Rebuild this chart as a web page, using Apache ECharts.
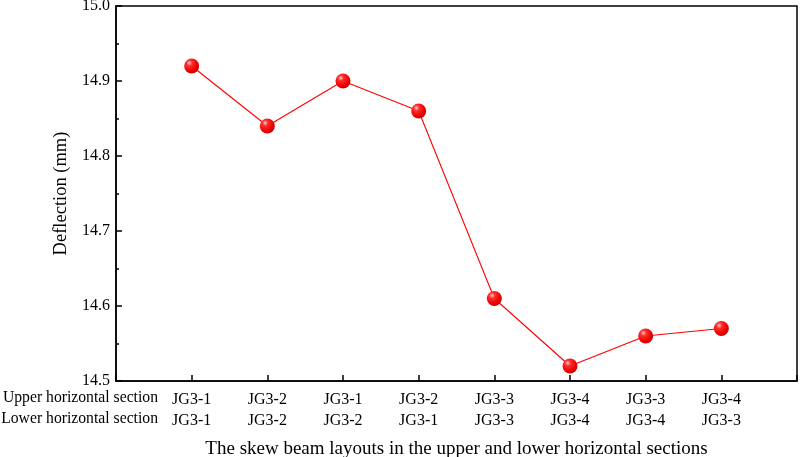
<!DOCTYPE html>
<html><head><meta charset="utf-8">
<script src="https://cdn.jsdelivr.net/npm/echarts@6/dist/echarts.min.js"></script>
<style>html,body{margin:0;padding:0;background:#fff}#c{width:800px;height:457px}</style>
</head><body><div id="c"></div>
<script>
var upperLabels = ['JG3-1','JG3-2','JG3-1','JG3-2','JG3-3','JG3-4','JG3-3','JG3-4'];
var lowerLabels = ['JG3-1','JG3-2','JG3-2','JG3-1','JG3-3','JG3-4','JG3-4','JG3-3'];
var deflection = [14.92, 14.84, 14.90, 14.86, 14.61, 14.52, 14.56, 14.57];
var yTicks = ['14.5','14.6','14.7','14.8','14.9','15.0'];
var rowHeaders = ['Upper horizontal section','Lower horizontal section'];

var F = 'Liberation Serif';
var chart = echarts.init(document.getElementById('c'));
var data = deflection.map(function(v,i){return [i+1, v];});
var grid = {left:116, right:3, top:6, bottom:76};
chart.setOption({
  animation:false,
  grid: Object.assign({show:true, borderColor:'#000', borderWidth:1.5, backgroundColor:'transparent', containLabel:false, outerBoundsMode:'none'}, grid),
  xAxis:{
    type:'value', min:0, max:upperLabels.length+1, interval:1,
    axisLine:{show:true, onZero:false, lineStyle:{color:'#000', width:1.5}},
    axisTick:{show:true, inside:true, length:6, lineStyle:{color:'#000', width:1.5}},
    splitLine:{show:false},
    axisLabel:{
      margin:8, fontFamily:F, fontSize:16, color:'#000', lineHeight:21,
      formatter:function(v){
        var i = Math.round(v)-1;
        if(i<0 || i>=upperLabels.length) return '';
        return upperLabels[i] + '\n' + lowerLabels[i];
      }
    },
    name:'The skew beam layouts in the upper and lower horizontal sections',
    nameLocation:'middle', nameGap:59,
    nameTextStyle:{fontFamily:F, fontSize:19, color:'#000'}
  },
  yAxis:{
    type:'value', min:14.5, max:15.0, interval:0.1,
    axisLine:{show:true, lineStyle:{color:'#000', width:1.5}},
    axisTick:{show:true, inside:true, length:6, lineStyle:{color:'#000', width:1.5}},
    minorTick:{show:true, splitNumber:2, length:3, lineStyle:{color:'#000', width:1.5}},
    splitLine:{show:false},
    axisLabel:{
      margin:6, fontFamily:F, fontSize:16, color:'#000',
      formatter:function(v){ var idx = Math.round((v-14.5)/0.1); return yTicks[idx] || ''; }
    },
    name:'Deflection (mm)', nameLocation:'middle', nameGap:38,
    nameTextStyle:{fontFamily:F, fontSize:18.5, color:'#000'}
  },
  graphic:[
    {type:'text', right:800-158, top:390, style:{text:rowHeaders[0], font:'15.7px "Liberation Serif"', fill:'#000', textAlign:'right'}},
    {type:'text', right:800-158, top:411, style:{text:rowHeaders[1], font:'15.7px "Liberation Serif"', fill:'#000', textAlign:'right'}}
  ],
  series:[{
    type:'line', data:data, symbol:'circle', symbolSize:15,
    lineStyle:{color:'#ff0000', width:1.1},
    itemStyle:{
      color:{type:'radial', x:0.35, y:0.3, r:0.75, colorStops:[
        {offset:0, color:'#ffd0d0'},{offset:0.25, color:'#ff3030'},{offset:0.7, color:'#f00000'},{offset:1, color:'#c00000'}]},
      borderWidth:0
    }
  }]
});
</script></body></html>
